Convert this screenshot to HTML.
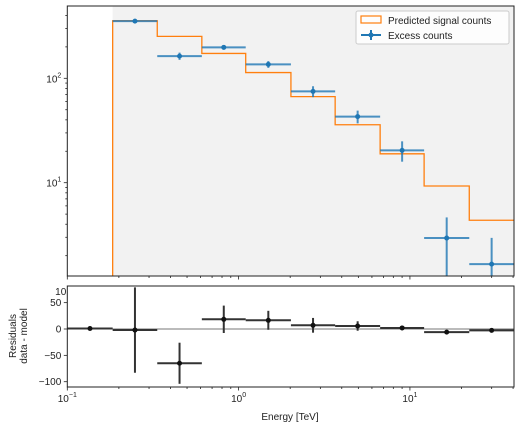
<!DOCTYPE html>
<html><head><meta charset="utf-8"><style>
html,body{margin:0;padding:0;background:#fff;width:520px;height:429px;overflow:hidden}
svg{font-family:"Liberation Sans","DejaVu Sans",sans-serif;display:block}
</style></head><body>
<svg id="chart" width="520" height="429" viewBox="0 0 520 429" xmlns="http://www.w3.org/2000/svg"></svg>
<script>
const edges = [0.1, 0.184, 0.335, 0.61, 1.1, 2.02, 3.66, 6.7, 12.1, 22.2, 40.5];
const excessCounts = [353, 163, 198, 136, 75, 43, 20.4, 2.95, 1.66];
const excessErr = [8, 13, 10, 10, 9, 6, 4.5, 1.7, 1.3];
const predictedCounts = [356, 252, 173, 113.5, 66.7, 35.9, 18.9, 9.3, 4.37];
const residuals = [1, -2, -65, 18.4, 16.5, 7, 5.7, 2, -6, -2.5];
const residualErr = [0, 81, 39, 26, 18, 14, 9, 4, 2, 2];
const resTicks = [-100, -50, 0, 50];

const svg = document.getElementById('chart');
const NS = 'http://www.w3.org/2000/svg';
function mk(tag, attrs, parent, text){
  const e = document.createElementNS(NS, tag);
  for (const k in attrs) e.setAttribute(k, attrs[k]);
  if (text !== undefined) e.textContent = text;
  (parent || svg).appendChild(e);
  return e;
}
const L = 67.3, R = 514, T1 = 6, B1 = 276, T2 = 286, B2 = 387;
const xMinL = -1, xMaxL = Math.log10(40.5);
const x = v => L + (Math.log10(v) - xMinL) / (xMaxL - xMinL) * (R - L);
const y1 = v => 78.3 + (2 - Math.log10(v)) * 104.4;
const y2 = v => 329 - v * 0.527;

// top axes background
const bgTop = mk('rect', {x:L, y:T1, width:R-L, height:B1-T1, fill:'#fff'});


const shade = mk('rect', {x:x(edges[1]), y:T1, width:R-x(edges[1]), height:B1-T1, fill:'#f2f2f2'});



// predicted step
let d = 'M' + x(edges[1]) + ',' + B1;
for (let i = 0; i < predictedCounts.length; i++) {
  const yy = y1(predictedCounts[i]);
  d += ' L' + x(edges[i+1]) + ',' + yy + ' L' + x(edges[i+2]) + ',' + yy;
}
const step = mk('path', {d:d, fill:'none', stroke:'#ff7f0e', 'stroke-width':1.3});


// gray line beyond (matplotlib shows gray where outside) - keep orange overall

// excess counts
const clipTop = mk('clipPath', {id:'ct'});
mk('rect', {x:L, y:T1, width:R-L, height:B1-T1}, clipTop);
const gEx = mk('g', {'clip-path':'url(#ct)'});
for (let i = 0; i < excessCounts.length; i++) {
  const x0 = x(edges[i+1]), x1 = x(edges[i+2]);
  const xc = x(Math.sqrt(edges[i+1]*edges[i+2]));
  const yc = y1(excessCounts[i]);
  const lo = excessCounts[i] - excessErr[i];
  const g = mk('g', {stroke:'#1f77b4', 'stroke-opacity':0.8, 'stroke-width':2}, gEx);
  
  
  mk('line', {x1:x0, x2:x1, y1:yc, y2:yc}, g);
  mk('line', {x1:xc, x2:xc, y1:y1(excessCounts[i]+excessErr[i]), y2: lo > 0 ? y1(lo) : B1+5}, g);
  mk('circle', {cx:xc, cy:yc, r:2.5, fill:'#1f77b4', stroke:'none'}, g);
}
// top frame
const f1 = mk('rect', {x:L, y:T1, width:R-L, height:B1-T1, fill:'none', stroke:'#222', 'stroke-width':1});



// top y ticks
for (let e = 0; e <= 2; e++) {
  for (let m = 1; m <= 9; m++) {
    const v = m * Math.pow(10, e);
    const yy = y1(v);
    if (yy < T1 || yy > B1) continue;
    mk('line', {x1:L, x2:L-(m===1?3.5:2), y1:yy, y2:yy, stroke:'#222', 'stroke-width':0.8});
    if (m === 1) {
      const t = mk('text', {x:L-6, y:yy+4, 'text-anchor':'end', 'font-size':10, fill:'#222'});
      
      
      mk('tspan', {}, t, '10');
      mk('tspan', {dy:-5, 'font-size':7}, t, String(e));
    }
  }
}
// x ticks both axes
function xticks(yb, labels) {
  for (let e = -1; e <= 1; e++) {
    for (let m = 1; m <= 9; m++) {
      const v = m * Math.pow(10, e);
      const xx = x(v);
      if (xx < L - 0.5 || xx > R + 0.5) continue;
      mk('line', {x1:xx, x2:xx, y1:yb, y2:yb+(m===1?3.5:2), stroke:'#222', 'stroke-width':0.8});
      if (labels && m === 1) {
        const t = mk('text', {x:xx, y:yb+15, 'text-anchor':'middle', 'font-size':10, fill:'#222'});
        
        
        mk('tspan', {}, t, '10');
        mk('tspan', {dy:-5, 'font-size':7}, t, e === -1 ? '\u22121' : String(e));
      }
    }
  }
}
xticks(B1, false);

// legend
const lg = mk('g', {});


mk('rect', {x:356, y:11, width:153, height:33, rx:2, fill:'#fff', 'fill-opacity':0.85, stroke:'#ccc'}, lg);
const le1 = mk('g', {}, lg);


mk('rect', {x:361, y:16, width:20, height:7, fill:'none', stroke:'#ff7f0e', 'stroke-width':1.2}, le1);
mk('text', {x:388, y:24, 'font-size':10, fill:'#222'}, le1, 'Predicted signal counts');
const le2 = mk('g', {}, lg);


mk('line', {x1:361, x2:381, y1:35, y2:35, stroke:'#1f77b4', 'stroke-width':2}, le2);
mk('line', {x1:371, x2:371, y1:30, y2:40, stroke:'#1f77b4', 'stroke-width':2}, le2);
mk('circle', {cx:371, cy:35, r:2.5, fill:'#1f77b4'}, le2);
mk('text', {x:388, y:39, 'font-size':10, fill:'#222'}, le2, 'Excess counts');

// residual axes
const zl = mk('line', {x1:L, x2:R, y1:y2(0), y2:y2(0), stroke:'#777', 'stroke-width':1});


for (let i = 0; i < residuals.length; i++) {
  const x0 = x(edges[i]), x1 = x(edges[i+1]);
  const xc = x(Math.sqrt(edges[i]*edges[i+1]));
  const yc = y2(residuals[i]);
  const g = mk('g', {stroke:'#333', 'stroke-width':2});
  
  
  mk('line', {x1:x0, x2:x1, y1:yc, y2:yc}, g);
  if (residualErr[i] > 0) mk('line', {x1:xc, x2:xc, y1:y2(residuals[i]+residualErr[i]), y2:y2(residuals[i]-residualErr[i])}, g);
  mk('circle', {cx:xc, cy:yc, r:2.5, fill:'#111', stroke:'none'}, g);
}
const f2 = mk('rect', {x:L, y:T2, width:R-L, height:B2-T2, fill:'none', stroke:'#222', 'stroke-width':1});


for (const v of resTicks) {
  const yy = y2(v);
  mk('line', {x1:L, x2:L-3.5, y1:yy, y2:yy, stroke:'#222', 'stroke-width':0.8});
  const t = mk('text', {x:L-6, y:yy+3.5, 'text-anchor':'end', 'font-size':10, fill:'#222'}, undefined, v < 0 ? '\u2212' + Math.abs(v) : String(v));
  
  
}
const t100 = mk('text', {x:L-1, y:295, 'text-anchor':'end', 'font-size':10, fill:'#222'}, undefined, '10');


xticks(B2, true);

const xl = mk('text', {x:290, y:420, 'text-anchor':'middle', 'font-size':10, fill:'#222'}, undefined, 'Energy [TeV]');


const yl = mk('text', {transform:'translate(16,336) rotate(-90)', 'text-anchor':'middle', 'font-size':10, fill:'#222'});


mk('tspan', {x:0, dy:0}, yl, 'Residuals');
mk('tspan', {x:0, dy:11}, yl, 'data - model');
</script>
</body></html>
